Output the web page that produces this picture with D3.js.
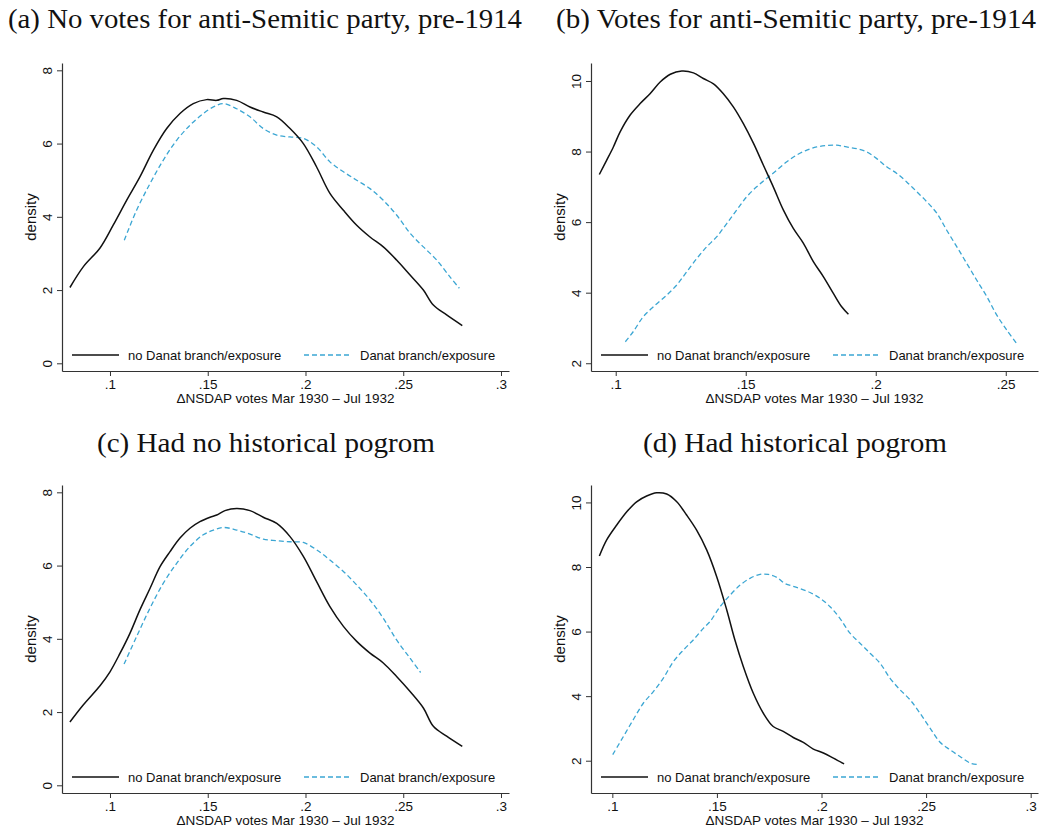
<!DOCTYPE html>
<html>
<head>
<meta charset="utf-8">
<script src="https://cdn.jsdelivr.net/npm/d3@7"></script>
<style>
  body { margin: 0; background: #fff; }
  svg { display: block; }
</style>
</head>
<body>
<svg id="chart" width="1041" height="829"></svg>
<script>
// panel titles and labels
let titles = [
    "(a) No votes for anti-Semitic party, pre-1914",
    "(b) Votes for anti-Semitic party, pre-1914",
    "(c) Had no historical pogrom",
    "(d) Had historical pogrom"
];
let seriesNames = ["no Danat branch/exposure", "Danat branch/exposure"];
let xTitle = "\u0394NSDAP votes Mar 1930 \u2013 Jul 1932";
let yTitle = "density";

let xTicksA = [0.1, 0.15, 0.2, 0.25, 0.3];
let xTicksB = [0.1, 0.15, 0.2, 0.25];
let yTicksA = [0, 2, 4, 6, 8];
let yTicksB = [2, 4, 6, 8, 10];

// (a) black, no Danat
let aNoX = [0.0795, 0.0864, 0.0949, 0.1017, 0.1085, 0.1153, 0.1222, 0.129, 0.1358, 0.1426, 0.1494, 0.1546, 0.158, 0.1648, 0.1716, 0.1784, 0.1853, 0.1921, 0.1989, 0.2057, 0.2125, 0.2194, 0.2262, 0.233, 0.2398, 0.2466, 0.2535, 0.2603, 0.2654, 0.2722, 0.2802];
let aNoY = [2.07, 2.64, 3.15, 3.78, 4.45, 5.09, 5.82, 6.41, 6.82, 7.09, 7.2, 7.18, 7.23, 7.18, 7.0, 6.86, 6.73, 6.41, 6.0, 5.36, 4.64, 4.18, 3.77, 3.45, 3.18, 2.82, 2.41, 2.0, 1.59, 1.32, 1.03];
// (a) blue, Danat
let aDnX = [0.1073, 0.1136, 0.1205, 0.1273, 0.1341, 0.1409, 0.1477, 0.1529, 0.158, 0.1648, 0.1716, 0.1784, 0.1853, 0.1921, 0.1989, 0.2057, 0.2125, 0.2194, 0.2262, 0.233, 0.2398, 0.2466, 0.2535, 0.2603, 0.2671, 0.2739, 0.2787];
let aDnY = [3.36, 4.18, 4.91, 5.55, 6.09, 6.5, 6.82, 7.0, 7.09, 6.95, 6.73, 6.41, 6.23, 6.18, 6.14, 5.91, 5.5, 5.23, 5.0, 4.77, 4.45, 4.05, 3.55, 3.18, 2.82, 2.36, 2.05];

// (b)
let bNoX = [0.0937, 0.0965, 0.0991, 0.1017, 0.1055, 0.1094, 0.1132, 0.1171, 0.121, 0.1254, 0.1299, 0.1337, 0.1376, 0.1414, 0.1453, 0.1491, 0.153, 0.1568, 0.1606, 0.1645, 0.1683, 0.1722, 0.176, 0.1799, 0.1837, 0.1869, 0.1895];
let bNoY = [7.35, 7.75, 8.13, 8.56, 9.03, 9.36, 9.64, 9.97, 10.19, 10.28, 10.23, 10.07, 9.92, 9.64, 9.26, 8.79, 8.23, 7.61, 7.0, 6.34, 5.82, 5.4, 4.88, 4.45, 3.98, 3.6, 3.39];
let bDnX = [0.1037, 0.1068, 0.1106, 0.1145, 0.1196, 0.1235, 0.1273, 0.1312, 0.135, 0.1388, 0.1427, 0.1465, 0.1504, 0.1542, 0.1581, 0.1619, 0.1658, 0.1696, 0.1735, 0.1773, 0.1812, 0.185, 0.1888, 0.1927, 0.1965, 0.2004, 0.2042, 0.2081, 0.2119, 0.2158, 0.2196, 0.2235, 0.2273, 0.2312, 0.235, 0.2388, 0.2427, 0.2465, 0.2504, 0.254];
let bDnY = [2.61, 2.9, 3.32, 3.6, 3.93, 4.22, 4.59, 4.97, 5.3, 5.58, 5.96, 6.34, 6.72, 7.0, 7.24, 7.47, 7.71, 7.9, 8.04, 8.13, 8.17, 8.18, 8.13, 8.08, 7.99, 7.8, 7.57, 7.38, 7.14, 6.86, 6.58, 6.25, 5.77, 5.3, 4.83, 4.36, 3.89, 3.37, 2.94, 2.58];

// (c)
let cNoX = [0.0795, 0.0864, 0.0949, 0.1, 0.1051, 0.1102, 0.1153, 0.1205, 0.1256, 0.1307, 0.1358, 0.1409, 0.146, 0.1512, 0.1546, 0.1588, 0.1648, 0.1716, 0.1784, 0.1853, 0.1921, 0.1989, 0.2057, 0.2125, 0.2194, 0.2262, 0.233, 0.2398, 0.2466, 0.2535, 0.2603, 0.2654, 0.2722, 0.2802];
let cNoY = [1.73, 2.2, 2.72, 3.1, 3.6, 4.15, 4.79, 5.38, 5.97, 6.38, 6.75, 7.02, 7.2, 7.32, 7.38, 7.5, 7.56, 7.5, 7.32, 7.15, 6.79, 6.25, 5.56, 4.88, 4.34, 3.93, 3.61, 3.34, 2.97, 2.56, 2.11, 1.61, 1.34, 1.06];
let cDnX = [0.1072, 0.1136, 0.1205, 0.1273, 0.1341, 0.1409, 0.1477, 0.1529, 0.158, 0.1648, 0.1716, 0.1784, 0.1853, 0.1921, 0.1989, 0.2057, 0.2125, 0.2194, 0.2262, 0.233, 0.2398, 0.2466, 0.2535, 0.2589];
let cDnY = [3.31, 4.06, 4.84, 5.52, 6.06, 6.52, 6.84, 6.97, 7.04, 6.97, 6.86, 6.72, 6.68, 6.65, 6.63, 6.43, 6.15, 5.84, 5.47, 5.06, 4.56, 3.97, 3.47, 3.08];

// (d)
let dNoX = [0.0938, 0.0973, 0.1021, 0.1069, 0.1116, 0.1164, 0.1212, 0.126, 0.1308, 0.1355, 0.1403, 0.1451, 0.1499, 0.1547, 0.1586, 0.1626, 0.1674, 0.1722, 0.1769, 0.1817, 0.1865, 0.1913, 0.1961, 0.2009, 0.2057, 0.2108];
let dNoY = [8.34, 8.84, 9.3, 9.71, 10.02, 10.2, 10.3, 10.26, 10.02, 9.61, 9.14, 8.53, 7.7, 6.67, 5.74, 4.92, 4.09, 3.47, 3.06, 2.91, 2.72, 2.57, 2.36, 2.24, 2.08, 1.9];
let dDnX = [0.1002, 0.1053, 0.11, 0.1148, 0.1196, 0.1244, 0.1292, 0.134, 0.1387, 0.1435, 0.1467, 0.1515, 0.1563, 0.1611, 0.1658, 0.1706, 0.1746, 0.1786, 0.1825, 0.1881, 0.1945, 0.1993, 0.2041, 0.2088, 0.2136, 0.2184, 0.2232, 0.228, 0.2327, 0.2375, 0.2423, 0.2471, 0.2519, 0.2567, 0.2614, 0.2662, 0.271, 0.2747];
let dDnY = [2.19, 2.75, 3.27, 3.78, 4.14, 4.56, 5.07, 5.43, 5.74, 6.1, 6.31, 6.77, 7.13, 7.44, 7.65, 7.77, 7.77, 7.68, 7.49, 7.37, 7.21, 7.03, 6.77, 6.41, 5.95, 5.64, 5.33, 5.02, 4.56, 4.2, 3.89, 3.47, 3.01, 2.57, 2.34, 2.13, 1.93, 1.88];

let blue = "#3ba6d3";
let axisColor = "#333";
let sans = "'Liberation Sans', Arial, sans-serif";
let serif = "'Liberation Serif', 'DejaVu Serif', serif";

// layout of the four panels
let panels = [
    { title: titles[0], titleX: 265, titleY: 28, titleW: 514, left: 62, right: 509, top: 63, bottom: 371,
      xDom: [0.07545, 0.3041], yDom: [-0.21, 8.2], xTicks: xTicksA, yTicks: yTicksA,
      no: [aNoX, aNoY], dn: [aDnX, aDnY] },
    { title: titles[1], titleX: 796, titleY: 28, titleW: 480, left: 591, right: 1038, top: 63, bottom: 371,
      xDom: [0.0905, 0.2624], yDom: [1.78, 10.51], xTicks: xTicksB, yTicks: yTicksB,
      no: [bNoX, bNoY], dn: [bDnX, bDnY] },
    { title: titles[2], titleX: 266, titleY: 452, titleW: 338, left: 62, right: 509, top: 485, bottom: 793,
      xDom: [0.07545, 0.3041], yDom: [-0.21, 8.2], xTicks: xTicksA, yTicks: yTicksA,
      no: [cNoX, cNoY], dn: [cDnX, cDnY] },
    { title: titles[3], titleX: 795, titleY: 452, titleW: 304, left: 591, right: 1038, top: 485, bottom: 793,
      xDom: [0.0898, 0.3035], yDom: [1.0, 10.54], xTicks: xTicksA, yTicks: yTicksB,
      no: [dNoX, dNoY], dn: [dDnX, dDnY] }
];

let svg = d3.select("#chart");

function fmtTick(v) {
    return d3.format("")(v).replace(/^0\./, ".");
}

function zip(xs, ys) {
    return xs.map(function (x, i) { return [x, ys[i]]; });
}

panels.forEach(function (p) {
    let x = d3.scaleLinear().domain(p.xDom).range([p.left, p.right]);
    let y = d3.scaleLinear().domain(p.yDom).range([p.bottom, p.top]);
    let g = svg.append("g");

    // title
    g.append("text")
        .attr("x", p.titleX)
        .attr("y", p.titleY)
        .attr("text-anchor", "middle")
        .attr("font-family", serif)
        .attr("font-size", 27)
        .attr("textLength", p.titleW)
        .attr("lengthAdjust", "spacingAndGlyphs")
        .attr("fill", "#111")
        .text(p.title);

    // x axis
    let xAxis = g.append("g")
        .attr("transform", "translate(0," + p.bottom + ")")
        .call(d3.axisBottom(x).tickValues(p.xTicks).tickFormat(fmtTick).tickSize(5).tickSizeOuter(0).tickPadding(3));
    xAxis.select(".domain").attr("stroke", axisColor).attr("stroke-width", 1.2);
    xAxis.selectAll(".tick line").attr("stroke", axisColor);
    xAxis.selectAll("text").attr("font-family", sans).attr("font-size", 13.5).attr("fill", "#111");

    // y axis
    let yAxis = g.append("g")
        .attr("transform", "translate(" + p.left + ",0)")
        .call(d3.axisLeft(y).tickValues(p.yTicks).tickSize(5).tickSizeOuter(0));
    yAxis.select(".domain").attr("stroke", axisColor).attr("stroke-width", 1.2);
    yAxis.selectAll(".tick line").attr("stroke", axisColor);
    yAxis.selectAll("text")
        .attr("font-family", sans).attr("font-size", 13.5).attr("fill", "#111")
        .attr("text-anchor", "middle")
        .attr("x", 0).attr("dy", 0)
        .attr("transform", "translate(-10,0) rotate(-90)");

    // axis titles
    g.append("text")
        .attr("x", (p.left + p.right) / 2)
        .attr("y", p.bottom + 32)
        .attr("text-anchor", "middle")
        .attr("font-family", sans)
        .attr("font-size", 13.5)
        .attr("fill", "#111")
        .text(xTitle);
    g.append("text")
        .attr("transform", "translate(" + (p.left - 26) + "," + ((p.top + p.bottom) / 2) + ") rotate(-90)")
        .attr("text-anchor", "middle")
        .attr("font-family", sans)
        .attr("font-size", 15)
        .attr("fill", "#111")
        .text(yTitle);

    // curves
    let line = d3.line()
        .x(function (d) { return x(d[0]); })
        .y(function (d) { return y(d[1]); })
        .curve(d3.curveCatmullRom);

    g.append("path")
        .datum(zip(p.dn[0], p.dn[1]))
        .attr("d", line)
        .attr("fill", "none")
        .attr("stroke", blue)
        .attr("stroke-width", 1.3)
        .attr("stroke-dasharray", "5,3");

    g.append("path")
        .datum(zip(p.no[0], p.no[1]))
        .attr("d", line)
        .attr("fill", "none")
        .attr("stroke", "#111")
        .attr("stroke-width", 1.5);

    // legend
    let ly = p.bottom - 16;
    let lx = p.left + 10;
    g.append("line")
        .attr("x1", lx).attr("x2", lx + 47)
        .attr("y1", ly).attr("y2", ly)
        .attr("stroke", "#111").attr("stroke-width", 1.5);
    g.append("text")
        .attr("x", lx + 56).attr("y", ly + 4.5)
        .attr("font-family", sans).attr("font-size", 13).attr("fill", "#111")
        .text(seriesNames[0]);
    g.append("line")
        .attr("x1", lx + 232).attr("x2", lx + 280)
        .attr("y1", ly).attr("y2", ly)
        .attr("stroke", blue).attr("stroke-width", 1.3)
        .attr("stroke-dasharray", "5,3");
    g.append("text")
        .attr("x", lx + 288).attr("y", ly + 4.5)
        .attr("font-family", sans).attr("font-size", 13).attr("fill", "#111")
        .text(seriesNames[1]);
});
</script>
</body>
</html>
